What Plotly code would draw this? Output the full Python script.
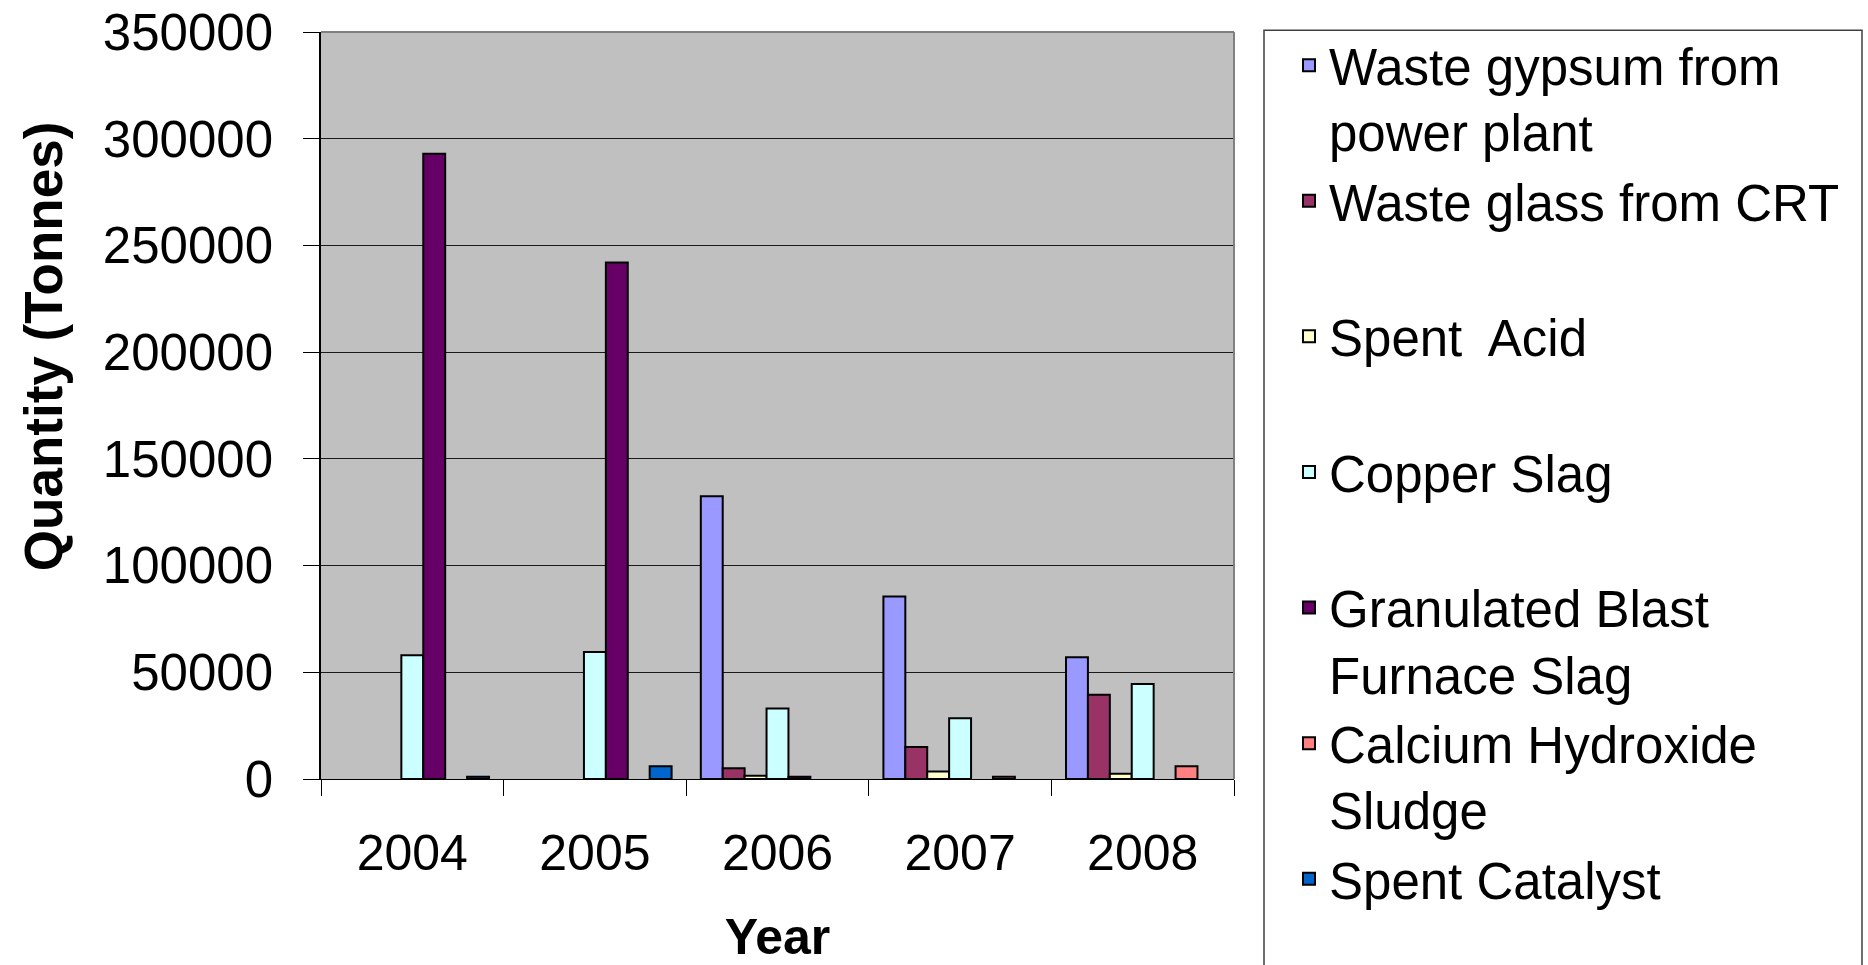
import plotly.graph_objects as go

years = ["2004", "2005", "2006", "2007", "2008"]

series_names = [
    "Waste gypsum from<br>power plant",
    "Waste glass from CRT<br> ",
    "Spent\u00a0 Acid<br> ",
    "Copper Slag<br> ",
    "Granulated Blast<br>Furnace Slag",
    "Calcium Hydroxide<br>Sludge",
    "Spent Catalyst",
]

gypsum = [None, None, 132500, 85500, 57000]
glass_crt = [None, None, 5000, 15000, 39500]
spent_acid = [None, None, 1500, 3500, 2500]
copper_slag = [58000, 59500, 33000, 28500, 44500]
gbfs = [293000, 242000, 1000, None, None]
calcium_sludge = [None, None, None, 1000, 6000]
spent_catalyst = [1000, 6000, None, None, None]

series_values = [gypsum, glass_crt, spent_acid, copper_slag, gbfs, calcium_sludge, spent_catalyst]
colors = ["#9999FF", "#993366", "#FFFFCC", "#CCFFFF", "#660066", "#FF8080", "#0066CC"]

y_ticks = [0, 50000, 100000, 150000, 200000, 250000, 300000, 350000]

FONT = "Liberation Sans, Arial, sans-serif"

fig = go.Figure()
for name, vals, col in zip(series_names, series_values, colors):
    fig.add_trace(go.Bar(
        x=years, y=vals, name=name,
        marker=dict(color=col, line=dict(color="black", width=2)),
    ))

W, H = 1868, 965
L, R, T, B = 321, 634, 31.5, 185.7
pw, ph = W - L - R, H - T - B

def px_x(x):
    return (x - L) / pw

def px_y(y):
    return (H - B - y) / ph

fig.update_layout(
    width=W, height=H, autosize=False,
    margin=dict(l=L, r=R, t=T, b=B, pad=0),
    paper_bgcolor="white",
    plot_bgcolor="#C0C0C0",
    barmode="group",
    bargap=0.16,
    bargroupgap=0,
    font=dict(family=FONT, color="black"),
    showlegend=True,
    legend=dict(
        x=px_x(1289), y=px_y(25), xanchor="left", yanchor="top",
        font=dict(family=FONT, size=51, color="black"),
        bgcolor="rgba(0,0,0,0)",
        borderwidth=0,
        valign="top",
        traceorder="normal",
        itemclick=False,
        maxheight=2000,
    ),
    xaxis=dict(
        type="category",
        automargin=False,
        tickson="boundaries",
        ticks="outside", ticklen=16, tickwidth=1, tickcolor="black",
        showline=True, linecolor="black", linewidth=1,
        showgrid=False,
        tickfont=dict(family=FONT, size=50, color="black"),
        ticklabelstandoff=30,
        title=dict(text="<b>Year</b>", font=dict(family=FONT, size=50, color="black"), standoff=43),
    ),
    yaxis=dict(
        automargin=False,
        range=[0, 350000],
        tickvals=y_ticks,
        ticktext=[str(v) for v in y_ticks],
        ticks="outside", ticklen=16, tickwidth=1, tickcolor="black",
        showline=True, linecolor="black", linewidth=1.5,
        showgrid=True, gridcolor="#1a1a1a", gridwidth=1,
        zeroline=False,
        tickfont=dict(family=FONT, size=51, color="black"),
        ticklabelstandoff=20,
    ),
    shapes=[
        dict(type="line", xref="paper", yref="paper", x0=0, x1=1, y0=1, y1=1,
             line=dict(color="#808080", width=2), layer="above"),
        dict(type="line", xref="paper", yref="paper", x0=1, x1=1, y0=0, y1=1,
             line=dict(color="#808080", width=2), layer="above"),
        dict(type="rect", xref="paper", yref="paper",
             x0=px_x(1264), x1=px_x(1862), y0=px_y(1000), y1=px_y(29.7),
             line=dict(color="#404040", width=1.5), fillcolor="rgba(0,0,0,0)", layer="above"),
    ],
    annotations=[
        dict(text="<b>Quantity (Tonnes)</b>", textangle=-90,
             xref="paper", yref="paper", x=px_x(43), y=px_y(346),
             xanchor="center", yanchor="middle", showarrow=False,
             font=dict(family=FONT, size=53, color="black")),
    ],
)

fig.write_html("out.html", config={"displayModeBar": False},
               post_script="document.body.style.margin='0';")
